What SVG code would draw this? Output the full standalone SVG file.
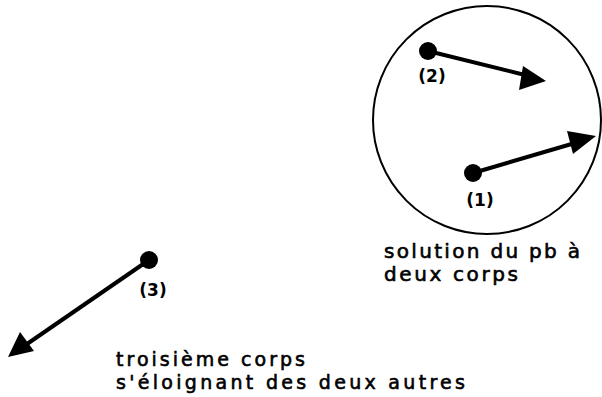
<svg xmlns="http://www.w3.org/2000/svg" width="602" height="397" viewBox="0 0 602 397">
<style>
  text { font-family: "DejaVu Sans", "Liberation Sans", sans-serif; fill: #000; stroke: #000; stroke-width: 0.6; }
  .lbl { font-size: 20px; }
  .low { font-size: 19px; }
  .num { font-size: 17px; text-anchor: middle; font-weight: bold; stroke-width: 0; }
  .arrow { stroke: #000; stroke-width: 4; fill: none; }
  .dot { fill: #000; }
</style>
<rect width="602" height="397" fill="#fff"/>
<g id="system">
  <circle cx="487" cy="120" r="114" fill="none" stroke="#000" stroke-width="2"/>
  <text class="lbl" x="384" y="258" textLength="196" lengthAdjust="spacing">solution du pb à</text>
  <text class="lbl" x="384" y="281" textLength="134" lengthAdjust="spacing">deux corps</text>
</g>
<g id="connectors">
  <line class="arrow" x1="428" y1="51" x2="525" y2="75"/>
  <polygon points="546,81 519,90 523,66" fill="#000"/>
  <line class="arrow" x1="473" y1="173" x2="575" y2="143"/>
  <polygon points="596,136 573,154 567,131" fill="#000"/>
  <line class="arrow" x1="149" y1="260" x2="27" y2="344"/>
  <polygon points="8,357 20,332 34,351" fill="#000"/>
</g>
<g id="body2">
  <circle class="dot" cx="428" cy="51" r="9"/>
  <text class="num" x="432" y="82">(2)</text>
</g>
<g id="body1">
  <circle class="dot" cx="473" cy="173" r="9"/>
  <text class="num" x="480" y="206">(1)</text>
</g>
<g id="body3">
  <circle class="dot" cx="149" cy="260" r="9"/>
  <text class="num" x="153" y="296">(3)</text>
  <text class="low" x="116" y="366" textLength="189" lengthAdjust="spacing">troisième corps</text>
  <text class="low" x="116" y="389" textLength="349" lengthAdjust="spacing">s'éloignant des deux autres</text>
</g>
</svg>
